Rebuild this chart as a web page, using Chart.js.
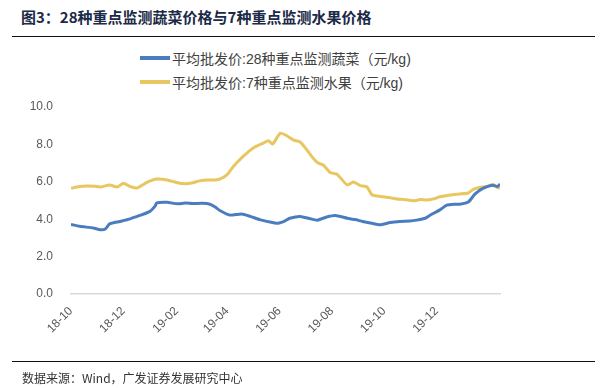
<!DOCTYPE html>
<html>
<head>
<meta charset="utf-8">
<script src="https://cdn.jsdelivr.net/npm/chart.js@4/dist/chart.umd.min.js"></script>
<style>
  html, body { margin:0; padding:0; background:#fff; }
  body { width:607px; height:388px; position:relative; overflow:hidden; font-family:"Liberation Sans","Noto Sans CJK SC",sans-serif; }
  #title { position:absolute; left:21px; top:6px; font-family:"Noto Sans CJK SC",sans-serif; font-weight:bold; font-size:15px; color:#1b2a47; white-space:nowrap; }
  #rule1 { position:absolute; left:12px; top:36px; width:583px; height:0; border-top:1.5px solid #111; }
  #rule2 { position:absolute; left:12px; top:361px; width:583px; height:0; border-top:1.5px solid #111; }
  #source { position:absolute; left:22px; top:369px; font-family:"Noto Sans CJK SC",sans-serif; font-size:12px; color:#333; white-space:nowrap; }
  .leg { position:absolute; left:140px; height:20px; display:flex; align-items:center; font-family:"Liberation Sans","Noto Sans CJK SC",sans-serif; font-size:14px; color:#404040; white-space:nowrap; }
  .leg .sw { width:30px; height:4px; margin-right:2px; }
  canvas { position:absolute; left:0; top:0; }
</style>
</head>
<body>
<div id="title">图3：28种重点监测蔬菜价格与7种重点监测水果价格</div>
<div id="rule1"></div>
<div class="leg" style="top:48px"><span class="sw" style="background:#4a7cc0"></span><span id="leg0"></span></div>
<div class="leg" style="top:72px"><span class="sw" style="background:#e8c660"></span><span id="leg1"></span></div>
<canvas id="c" width="607" height="388"></canvas>
<div id="rule2"></div>
<div id="source">数据来源：Wind，广发证券发展研究中心</div>
<script>
// days since 2018-10-01
const vegDays = [0,10,26,34,40,45,57,69,80,92,98,100,112,124,133,142,153,162,168,174,185,199,209,220,232,240,249,255,267,279,287,298,308,322,331,340,351,360,372,383,395,403,413,418,430,438,448,453,463,471,480,491,497,500];
const vegValues = [3.72,3.62,3.53,3.44,3.48,3.75,3.88,4.02,4.2,4.42,4.7,4.87,4.9,4.82,4.86,4.84,4.85,4.8,4.65,4.45,4.22,4.28,4.15,3.98,3.85,3.78,3.9,4.05,4.15,4.02,3.95,4.12,4.2,4.05,3.98,3.88,3.78,3.7,3.82,3.88,3.9,3.95,4.05,4.2,4.5,4.75,4.8,4.8,4.92,5.35,5.65,5.82,5.75,5.88];
const fruitDays = [0,10,19,28,34,45,54,61,69,77,89,100,112,124,133,142,150,159,168,174,182,189,200,212,224,230,235,244,252,259,267,275,282,288,294,302,310,322,329,337,345,351,364,372,380,389,399,407,415,424,430,442,453,463,469,476,485,492,497,500];
const fruitValues = [5.65,5.75,5.78,5.76,5.72,5.83,5.72,5.92,5.75,5.67,5.98,6.15,6.1,5.95,5.9,5.95,6.05,6.1,6.1,6.15,6.38,6.8,7.33,7.8,8.07,8.2,8.02,8.6,8.45,8.24,8.13,7.7,7.27,7.0,6.9,6.5,6.4,5.83,5.99,5.8,5.72,5.3,5.2,5.15,5.08,5.05,4.98,5.05,5.03,5.1,5.2,5.3,5.35,5.4,5.6,5.7,5.75,5.85,5.7,5.65];
const tickDays = [0,61,123,182,243,304,365,426];
const tickLabels = ['18-10','18-12','19-02','19-04','19-06','19-08','19-10','19-12'];
const seriesNames = ['平均批发价:28种重点监测蔬菜（元/kg)','平均批发价:7种重点监测水果（元/kg)'];
const yTicks = [0,2,4,6,8,10];

document.getElementById('leg0').textContent = seriesNames[0];
document.getElementById('leg1').textContent = seriesNames[1];

const toXY = (xs, ys) => xs.map((d, i) => ({x: d, y: ys[i]}));

new Chart(document.getElementById('c'), {
  type: 'line',
  data: {
    datasets: [
      { label: seriesNames[0], data: toXY(vegDays, vegValues), borderColor:'#4a7cc0', borderWidth:3, pointRadius:0, tension:0.2, fill:false },
      { label: seriesNames[1], data: toXY(fruitDays, fruitValues), borderColor:'#e8c660', borderWidth:3, pointRadius:0, tension:0.2, fill:false }
    ]
  },
  options: {
    responsive:false,
    animation:false,
    devicePixelRatio:1,
    layout:{ padding:{ left:0, top:107, right:107, bottom:0 } },
    plugins:{ legend:{display:false}, tooltip:{enabled:false} },
    scales:{
      x:{
        type:'linear', min:0, max:500,
        grid:{ display:false, drawTicks:false },
        border:{ display:true, color:'#d9d9d9', width:1.5 },
        afterBuildTicks:(s)=>{ s.ticks = tickDays.map(v=>({value:v})); },
        afterFit:(s)=>{ s.height = 94; },
        ticks:{
          autoSkip:false, minRotation:45, maxRotation:45, padding:10,
          color:'#595959', font:{family:'Liberation Sans', size:12},
          callback:(v)=>{ const i = tickDays.indexOf(v); return i>=0 ? tickLabels[i] : ''; }
        }
      },
      y:{
        min:0, max:10,
        grid:{ display:false, drawTicks:false },
        border:{ display:false },
        afterBuildTicks:(s)=>{ s.ticks = yTicks.map(v=>({value:v})); },
        afterFit:(s)=>{ s.width = 71; },
        ticks:{ padding:18, color:'#595959', font:{family:'Liberation Sans', size:12}, callback:(v)=>Number(v).toFixed(1) }
      }
    }
  }
});
</script>
</body>
</html>
